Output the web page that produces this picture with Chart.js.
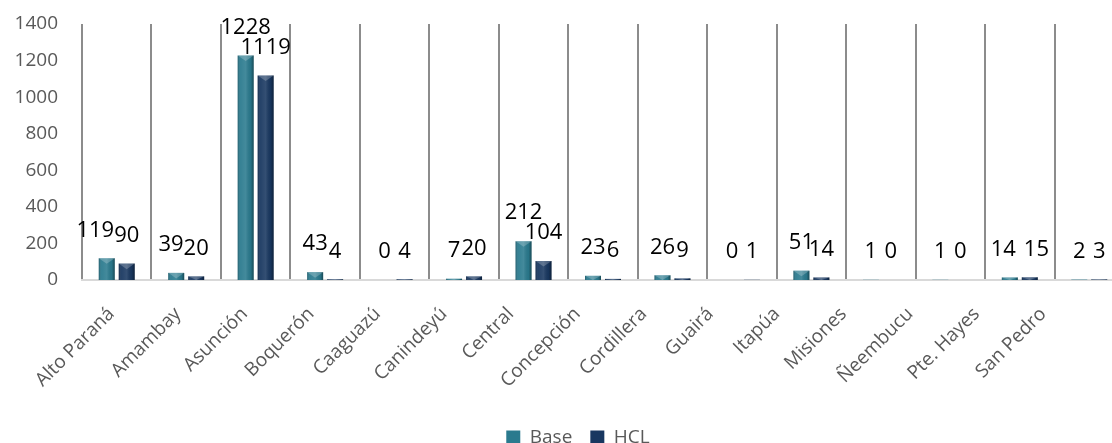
<!DOCTYPE html>
<html>
<head>
<meta charset="utf-8">
<script src="https://cdn.jsdelivr.net/npm/chart.js@4.4.1/dist/chart.umd.min.js"></script>
<style>
  html, body { margin: 0; padding: 0; background: #ffffff; overflow: hidden; }
  #wrap { position: relative; width: 1156px; height: 457px; }
</style>
</head>
<body>
<div id="wrap"><canvas id="c"></canvas></div>
<script>
const categories = ['Alto Paraná','Amambay','Asunción','Boquerón','Caaguazú','Canindeyú','Central','Concepción','Cordillera','Guairá','Itapúa','Misiones','Ñeembucu','Pte. Hayes','San Pedro'];
const baseValues = [119, 39, 1228, 43, 0, 7, 212, 23, 26, 0, 51, 1, 1, 14, 2];
const hclValues  = [90, 20, 1119, 4, 4, 20, 104, 6, 9, 1, 14, 0, 0, 15, 3];
const seriesNames = ['Base', 'HCL'];
const yTicks = [0, 200, 400, 600, 800, 1000, 1200, 1400];

const BASE_COLOR = '#2A7A8E';
const HCL_COLOR = '#183760';

const barStyle = {
  id: 'barStyle',
  afterLayout(chart) {
    // centre the legend under the whole (partly cropped) chart frame
    chart.legend.left += 16;
    chart.legend.right += 16;
  },
  afterDatasetsDraw(chart) {
    const ctx = chart.ctx;
    ctx.save();
    chart.data.datasets.forEach((ds, di) => {
      const meta = chart.getDatasetMeta(di);
      meta.data.forEach(el => {
        const w = el.width;
        const left = el.x - w / 2, right = el.x + w / 2;
        const top = Math.min(el.y, el.base), bot = Math.max(el.y, el.base);
        const h = bot - top;
        if (h < 0.5) return;
        const g = ctx.createLinearGradient(left, 0, right, 0);
        g.addColorStop(0, 'rgba(0,0,0,0.25)');
        g.addColorStop(0.18, 'rgba(255,255,255,0.06)');
        g.addColorStop(0.5, 'rgba(255,255,255,0.12)');
        g.addColorStop(0.82, 'rgba(0,0,0,0.05)');
        g.addColorStop(1, 'rgba(0,0,0,0.4)');
        ctx.fillStyle = g;
        ctx.fillRect(left, top, w, h);
        const th = Math.min(h, w * 0.35);
        ctx.beginPath();
        ctx.moveTo(left, top);
        ctx.lineTo(right, top);
        ctx.lineTo(el.x, top + th);
        ctx.closePath();
        ctx.fillStyle = 'rgba(255,255,255,0.22)';
        ctx.fill();
      });
    });
    // value labels
    ctx.font = '22px "Open Sans"';
    ctx.fillStyle = '#000000';
    ctx.textAlign = 'center';
    ctx.textBaseline = 'middle';
    const m0 = chart.getDatasetMeta(0), m1 = chart.getDatasetMeta(1);
    const off = 28;
    for (let i = 0; i < categories.length; i++) {
      const e0 = m0.data[i], e1 = m1.data[i];
      const t0 = String(baseValues[i]), t1 = String(hclValues[i]);
      const w0 = ctx.measureText(t0).width, w1 = ctx.measureText(t1).width;
      let x0 = e0.x, y0 = e0.y - off;
      let x1 = e1.x, y1 = e1.y - off;
      const overlapX = (x0 + w0 / 2) - (x1 - w1 / 2);
      if (overlapX > 0 && Math.abs(y0 - y1) < 6) {
        if (Math.abs(y0 - y1) < 2) { x0 -= (overlapX + 8) / 2; x1 += (overlapX + 8) / 2; }
        else x0 -= overlapX;
      }
      ctx.fillText(t0, x0, y0);
      ctx.fillText(t1, x1, y1);
    }
    ctx.restore();
  },
  afterDraw(chart) {
    // category labels, rotated 45°, placed along the front edge of the 3D floor
    const ctx = chart.ctx;
    const xs = chart.scales.x;
    const area = chart.chartArea;
    ctx.save();
    ctx.font = '19px "Open Sans"';
    ctx.fillStyle = '#595959';
    ctx.textAlign = 'right';
    ctx.textBaseline = 'middle';
    categories.forEach((lab, i) => {
      const px = xs.getPixelForTick(i);
      const ax = area.left + (px - area.left) * 0.958 - 3.8;
      const ay = area.bottom + 31;
      ctx.save();
      ctx.translate(ax, ay);
      ctx.rotate(-Math.PI / 4);
      ctx.fillText(lab, 0, 0);
      ctx.restore();
    });
    ctx.restore();
  }
};

new Chart(document.getElementById('c'), {
  type: 'bar',
  data: {
    labels: categories,
    datasets: [
      { label: seriesNames[0], data: baseValues, backgroundColor: BASE_COLOR, categoryPercentage: 0.575, barPercentage: 0.8 },
      { label: seriesNames[1], data: hclValues, backgroundColor: HCL_COLOR, categoryPercentage: 0.575, barPercentage: 0.8 }
    ]
  },
  options: {
    responsive: true,
    maintainAspectRatio: false,
    animation: false,
    devicePixelRatio: 1,
    layout: { padding: { top: 24, right: 32, left: 0, bottom: 0 } },
    plugins: {
      legend: {
        position: 'bottom',
        labels: {
          font: { family: 'Open Sans', size: 19 },
          color: '#595959',
          boxWidth: 14,
          boxHeight: 14,
          padding: 18
        }
      },
      tooltip: { enabled: false }
    },
    scales: {
      x: {
        grid: { display: true, offset: true, color: '#8c8c8c', lineWidth: 2, drawTicks: false },
        border: { display: true, color: '#d9d9d9', width: 2 },
        ticks: { display: false },
        afterFit(scale) { scale.height = 130; }
      },
      y: {
        min: 0,
        max: 1400,
        afterBuildTicks(scale) { scale.ticks = yTicks.map(v => ({ value: v })); },
        grid: { display: false, drawTicks: false },
        border: { display: false },
        ticks: {
          font: { family: 'Open Sans', size: 19 },
          color: '#595959',
          padding: 24,
          callback: (v) => String(v)
        },
        afterFit(scale) { scale.width = 82; scale.paddingTop = 0; scale.paddingBottom = 0; }
      }
    }
  },
  plugins: [barStyle]
});
</script>
</body>
</html>
